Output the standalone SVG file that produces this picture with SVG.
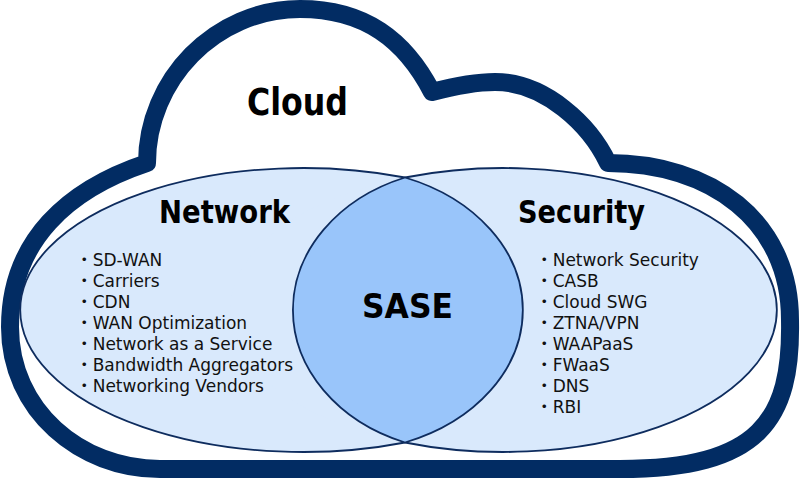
<svg xmlns="http://www.w3.org/2000/svg" width="800" height="479" viewBox="0 0 800 479">
  <style>
    .cloud { fill: #ffffff; stroke: #022C63; stroke-width: 18; stroke-linejoin: round; }
    .area { fill: #D9E9FC; stroke: none; }
    .edge { fill: none; stroke: #0E2C5E; stroke-width: 1.8; }
    .lens { fill: #99C5FA; stroke: #0E2C5E; stroke-width: 1.8; }
    .title { font-family: "DejaVu Sans Condensed", "DejaVu Sans", Verdana, sans-serif; font-weight: bold; fill: #000000; }
    .item { font-family: "DejaVu Sans", "Noto Sans CJK JP", sans-serif; font-size: 17px; fill: #111111; }
  </style>
  <rect x="0" y="0" width="800" height="479" fill="#ffffff"/>
  <g id="cloud">
    <path class="cloud" d="M160,469 C80,469 10,410 10,327 C10,240 69,189 147,163 C147,80 215,9 300,9 C365,9 405,40 432,92 C455,86 475,82 495,82 C545,82 590,125 608,163 C710,163 790,220 790,320 C792,420 760,469 620,469 Z"/>
    <text class="title" x="247" y="115" font-size="37" textLength="101" lengthAdjust="spacingAndGlyphs">Cloud</text>
  </g>
  <g id="network">
    <ellipse class="area" cx="303" cy="310" rx="283" ry="142"/>
  </g>
  <g id="security">
    <ellipse class="area" cx="503.5" cy="310" rx="273.5" ry="142"/>
  </g>
  <g id="outlines">
    <path class="edge" d="M405,177.5 A283,142 0 1 0 405,442.5"/>
    <path class="edge" d="M405,442.5 A273.5,142 0 1 0 405,177.5"/>
  </g>
  <g id="network-text">
    <text class="title" x="159" y="223" font-size="31.5" textLength="131" lengthAdjust="spacingAndGlyphs">Network</text>
    <text class="item" x="75.7" y="266">・SD-WAN</text>
    <text class="item" x="75.7" y="287">・Carriers</text>
    <text class="item" x="75.7" y="308">・CDN</text>
    <text class="item" x="75.7" y="329">・WAN Optimization</text>
    <text class="item" x="75.7" y="350">・Network as a Service</text>
    <text class="item" x="75.7" y="371">・Bandwidth Aggregators</text>
    <text class="item" x="75.7" y="392">・Networking Vendors</text>
  </g>
  <g id="security-text">
    <text class="title" x="518" y="223" font-size="31.5" textLength="127" lengthAdjust="spacingAndGlyphs">Security</text>
    <text class="item" x="535.7" y="266">・Network Security</text>
    <text class="item" x="535.7" y="287">・CASB</text>
    <text class="item" x="535.7" y="308">・Cloud SWG</text>
    <text class="item" x="535.7" y="328.5">・ZTNA/VPN</text>
    <text class="item" x="535.7" y="349.5">・WAAPaaS</text>
    <text class="item" x="535.7" y="370.5">・FWaaS</text>
    <text class="item" x="535.7" y="391.5">・DNS</text>
    <text class="item" x="535.7" y="412.5">・RBI</text>
  </g>
  <g id="sase">
    <path class="lens" d="M405,177.5 A175,142 0 0 0 405,442.5 A184,142 0 0 0 405,177.5 Z"/>
    <text class="title" x="362" y="318" font-size="34" textLength="91" lengthAdjust="spacingAndGlyphs">SASE</text>
  </g>
  <g id="connectors"/>
</svg>
